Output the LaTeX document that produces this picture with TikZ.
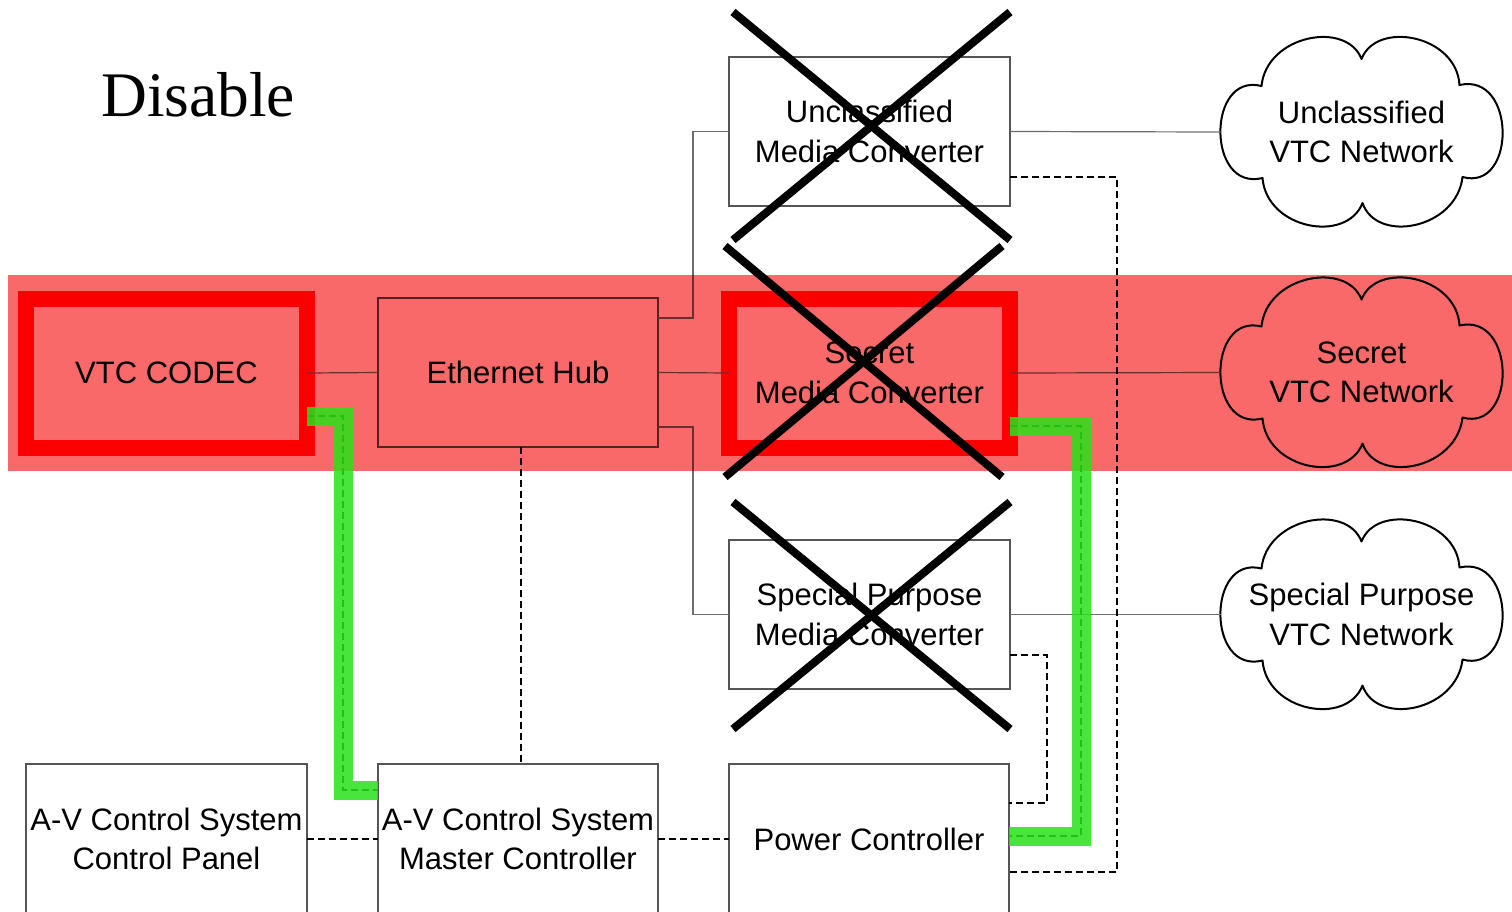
\documentclass[tikz,border=0pt]{standalone}
\usepackage{fontspec}
\setmainfont{Liberation Sans}
\newfontfamily\titlefont{Liberation Serif}
\definecolor{boxgray}{RGB}{85,85,85}
\definecolor{linegray}{RGB}{110,110,110}
\definecolor{bandred}{RGB}{250,105,105}
\definecolor{hlgreen}{RGB}{40,225,25}
\begin{document}
\begin{tikzpicture}[x=1pt,y=-1pt,
  box/.style={draw=boxgray, line width=1.3pt, inner sep=0pt, outer sep=0pt, align=center,
    font=\fontsize{31}{39.5}\selectfont, minimum width=281pt, minimum height=149pt},
  redbox/.style={box, draw=red, line width=16pt},
  cloudnode/.style={inner sep=0pt, outer sep=0pt, align=center, font=\fontsize{31}{39.5}\selectfont,
    minimum width=282pt, minimum height=189pt},
  cloudline/.style={draw=black, line width=2pt, line join=round},
  conn/.style={draw=linegray, line width=1.2pt},
  dconn/.style={draw=black, line width=1.8pt, dash pattern=on 7pt off 4pt},
  hl/.style={draw=hlgreen, line width=19pt, opacity=0.85},
  cross/.style={draw=black, line width=8pt}
]
\useasboundingbox (0,0) rectangle (1512,911);
\clip (0,0) rectangle (1512,911);

\node[anchor=base west, font=\titlefont\fontsize{63.5}{70}\selectfont, inner sep=0pt] (title) at (101,116) {Disable};

% boxes
\node[redbox] (codec) at (166.5,373) {VTC CODEC};
\node[box, minimum width=280pt] (hub) at (518,372.5) {Ethernet Hub};
\node[box] (umc) at (869.5,131.5) {Unclassified\\Media Converter};
\node[redbox] (smc) at (869.5,373) {Secret\\Media Converter};
\node[box] (spmc) at (869.5,614.5) {Special Purpose\\Media Converter};
\node[box, minimum height=150pt] (panel) at (166.5,839) {A-V Control System\\Control Panel};
\node[box, minimum width=280pt, minimum height=150pt] (master) at (518,839) {A-V Control System\\Master Controller};
\node[box, minimum width=280pt, minimum height=150pt] (power) at (869,839) {Power Controller};

% clouds
\node[cloudnode] (ucloud) at (1361.5,132) {Unclassified\\VTC Network};
\node[cloudnode] (scloud) at (1361.5,372.5) {Secret\\VTC Network};
\node[cloudnode] (spcloud) at (1361.5,614.5) {Special Purpose\\VTC Network};
\foreach \c in {ucloud,scloud,spcloud}{
  \begin{scope}[shift={(\c.center)}]
    \draw[cloudline] (-100,-46) .. controls (-95,-97) and (-15,-112) .. (0,-73)
      .. controls (15,-112) and (95,-97) .. (98,-47)
      .. controls (155,-60) and (155,60) .. (101,45)
      .. controls (95,97) and (15,112) .. (1,71)
      .. controls (-15,112) and (-95,97) .. (-99,46)
      .. controls (-155,60) and (-155,-60) .. (-100,-46) -- cycle;
  \end{scope}
}

% solid connectors
\draw[conn] (codec.east) -- (hub.west);
\draw[conn] ([yshift=54.5pt]hub.east) -- ++(35,0) |- (umc.west);
\draw[conn] (hub.east) -- (smc.west);
\draw[conn] ([yshift=-54.5pt]hub.east) -- ++(35,0) |- (spmc.west);
\draw[conn] (umc.east) -- (ucloud.west);
\draw[conn] (smc.east) -- (scloud.west);
\draw[conn] (spmc.east) -- (spcloud.west);

% dashed connectors
\draw[dconn] ([yshift=-45.5pt]umc.east) -- ++(107,0) |- ([yshift=-33pt]power.east);
\draw[dconn] ([yshift=-40.5pt]spmc.east) -- ++(37,0) |- ([yshift=36pt]power.east);
\draw[dconn] ([yshift=-53pt]smc.east) -- ++(71,0) |- ([yshift=3pt]power.east);
\draw[dconn] ([yshift=-43pt]codec.east) -- ++(36,0) |- ([yshift=49pt]master.west);
\draw[dconn] ([xshift=3pt]hub.south) -- ([xshift=3pt]master.north);
\draw[dconn] (panel.east) -- (master.west);
\draw[dconn] (master.east) -- (power.west);

% red band
\begin{scope}[blend mode=multiply]
\fill[bandred] (8,275) rectangle (1512,471);
\end{scope}

% green highlights
\draw[hl] ([yshift=-43pt]codec.east) -- ++(36,0) |- ([yshift=49pt]master.west);
\draw[hl] ([yshift=-53pt]smc.east) -- ++(71,0) |- ([yshift=3pt]power.east);

% crosses
\draw[cross] (733,12) -- (1010,240);
\draw[cross] (1010,12) -- (733,240);
\draw[cross] (725,246) -- (1002,477);
\draw[cross] (1002,246) -- (725,477);
\draw[cross] (733,502) -- (1010,729);
\draw[cross] (1010,502) -- (733,729);
\end{tikzpicture}
\end{document}
